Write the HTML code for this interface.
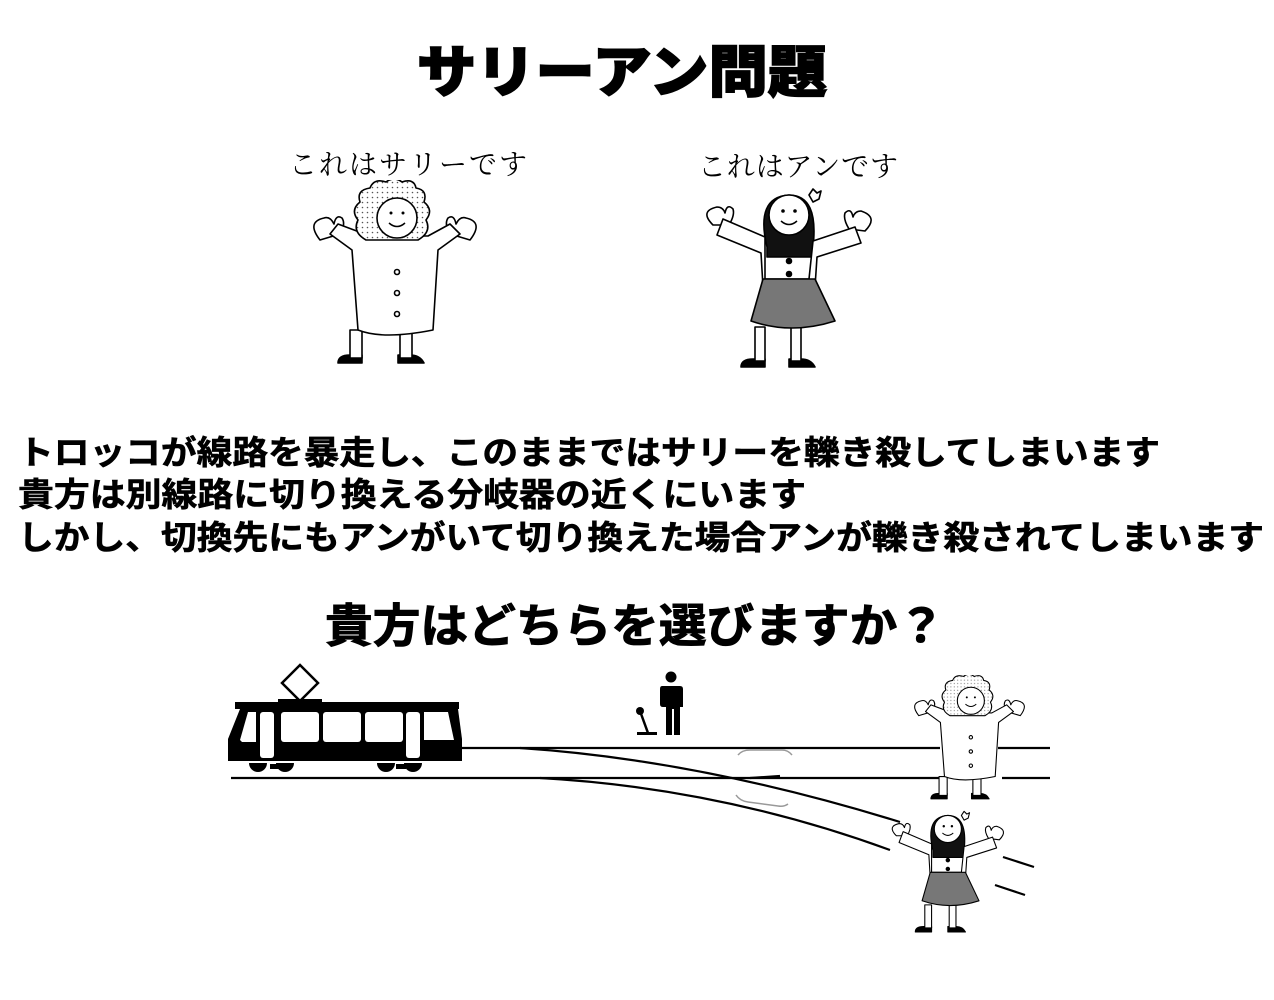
<!DOCTYPE html>
<html><head><meta charset="utf-8"><style>html,body{margin:0;padding:0;background:#fff}svg{display:block}</style></head>
<body>
<svg width="1274" height="1000" viewBox="0 0 1274 1000" xmlns="http://www.w3.org/2000/svg">
<defs>
<pattern id="dots" width="5" height="5" patternUnits="userSpaceOnUse"><rect width="5" height="5" fill="#fff"/><circle cx="2.5" cy="2.5" r="0.8" fill="#555"/></pattern>
<!-- Sally: local box 0..170 x 0..192 -->
<symbol id="sally" viewBox="0 0 170 192">
  <g stroke="#000" stroke-width="1.6" fill="#fff" stroke-linejoin="round">
    <path d="M40 175 q-12 0 -12 8 h24 v-8z" fill="#000"/>
    <path d="M100 175 q10 0 14 8 h-26 v-8z" fill="#000"/>
    <rect x="40" y="150" width="12" height="28"/>
    <rect x="90" y="150" width="12" height="28"/>
    <path d="M10 60 q-14 -18 4 -22 q6 -2 10 6 q2 -10 8 -6 q4 6 -2 16 z"/>
    <path d="M160 60 q14 -18 -4 -22 q-6 -2 -10 6 q-2 -10 -8 -6 q-4 6 2 16 z"/>
    <path d="M20 54 L42 70 L48 150 q25 10 75 0 L128 70 L150 54 L140 44 L118 56 L60 56 L28 44 z"/>
    <path d="M56 60 q-14 -8 -8 -20 q-8 -10 2 -18 q-4 -12 10 -14 q4 -10 16 -6 q8 -6 16 0 q12 -4 14 6 q12 2 8 14 q10 8 2 18 q6 12 -8 20 z" fill="url(#dots)"/>
    <circle cx="87" cy="38" r="20"/>
    <circle cx="87" cy="92" r="2.5"/><circle cx="87" cy="113" r="2.5"/><circle cx="87" cy="134" r="2.5"/>
  </g>
  <circle cx="81" cy="33" r="1.5"/><circle cx="93" cy="33" r="1.5"/>
  <path d="M79 43 q8 7 16 0" stroke="#000" stroke-width="1.5" fill="none"/>
</symbol>
<!-- Ann: local box 0..167 x 0..183 -->
<symbol id="ann" viewBox="0 0 167 183">
  <g stroke="#000" stroke-width="1.6" fill="#fff" stroke-linejoin="round">
    <path d="M62 60 q-12 -50 22 -52 q30 0 24 52 v10 h-46z" fill="#111"/>
    <path d="M48 172 q-12 0 -12 8 h24 v-8z" fill="#000"/>
    <path d="M96 172 q10 0 14 8 h-26 v-8z" fill="#000"/>
    <rect x="50" y="140" width="10" height="34"/><rect x="86" y="140" width="10" height="34"/>
    <path d="M8 38 q-14 -14 4 -18 q6 0 8 6 q2 -10 8 -4 q2 6 -4 16z"/>
    <path d="M160 44 q14 -14 -4 -20 q-6 0 -8 6 q-2 -10 -8 -4 q-2 6 4 16z"/>
    <path d="M18 32 L60 50 L60 92 L104 92 L108 54 L150 40 L156 56 L112 70 L110 100 L58 100 L56 66 L12 48z"/>
    <path d="M58 92 L46 134 q40 14 84 0 L110 92z" fill="#777"/>
    <circle cx="84" cy="28" r="20"/>
    <path d="M104 8 l4 -6 l4 4 l4 -2 l-2 8 l-6 3z"/>
    <circle cx="84" cy="74" r="2.5" fill="#000"/><circle cx="84" cy="87" r="2.5" fill="#000"/>
  </g>
  <circle cx="78" cy="24" r="1.8"/><circle cx="90" cy="24" r="1.8"/>
  <path d="M76 34 q8 7 16 0" stroke="#000" stroke-width="1.5" fill="none"/>
</symbol>
</defs>

<text x="622" y="92" text-anchor="middle" font-family="'Liberation Sans','Noto Sans CJK JP',sans-serif" font-weight="900" font-size="56" textLength="410" lengthAdjust="spacingAndGlyphs" stroke="#000" stroke-width="1.5">サリーアン問題</text>

<text x="408" y="174" text-anchor="middle" font-family="'Liberation Serif','Noto Serif CJK SC',serif" font-size="28" textLength="238">これはサリーです</text>
<text x="798" y="176" text-anchor="middle" font-family="'Liberation Serif','Noto Serif CJK SC',serif" font-size="28" textLength="200">これはアンです</text>

<use href="#sally" x="310" y="180" width="170" height="192"/>
<use href="#ann" x="705" y="187" width="167" height="183"/>

<g font-family="'Liberation Sans','Noto Sans CJK JP',sans-serif" font-weight="bold" font-size="33" stroke="#000" stroke-width="0.6">
<text x="18" y="464" textLength="1142" lengthAdjust="spacingAndGlyphs">トロッコが線路を暴走し、このままではサリーを轢き殺してしまいます</text>
<text x="18" y="506" textLength="788" lengthAdjust="spacingAndGlyphs">貴方は別線路に切り換える分岐器の近くにいます</text>
<text x="18" y="549" textLength="1246" lengthAdjust="spacingAndGlyphs">しかし、切換先にもアンがいて切り換えた場合アンが轢き殺されてしまいます</text>
</g>
<text x="635" y="642" text-anchor="middle" font-family="'Liberation Sans','Noto Sans CJK JP',sans-serif" font-weight="bold" font-size="46" textLength="620" lengthAdjust="spacingAndGlyphs" stroke="#000" stroke-width="1">貴方はどちらを選びますか？</text>

<!-- tram -->
<g>
  <path d="M300 665 l18 18 l-18 18 l-18 -18z" fill="none" stroke="#000" stroke-width="2.5"/>
  <rect x="278" y="699" width="44" height="5" fill="#000"/>
  <rect x="235" y="702" width="224" height="7" fill="#000"/>
  <path d="M240 709 h218 l4 30 v22 h-234 v-22z" fill="#000"/>
  <g fill="#fff">
    <path d="M240 740 l8 -28 h8 v30 h-14z"/>
    <rect x="260" y="712" width="14" height="46" rx="3"/>
    <rect x="281" y="712" width="38" height="30" rx="3"/>
    <rect x="323" y="712" width="38" height="30" rx="3"/>
    <rect x="365" y="712" width="38" height="30" rx="3"/>
    <rect x="406" y="712" width="14" height="46" rx="3"/>
    <path d="M424 712 h24 l6 28 h-30z"/>
  </g>
  <g fill="#000">
    <path d="M249 763 h18 a9 9 0 0 1 -18 0z"/><path d="M276 763 h18 a9 9 0 0 1 -18 0z"/>
    <rect x="270" y="764" width="10" height="5"/>
    <path d="M377 763 h18 a9 9 0 0 1 -18 0z"/><path d="M404 763 h18 a9 9 0 0 1 -18 0z"/>
    <rect x="396" y="764" width="10" height="5"/>
  </g>
</g>

<!-- rails -->
<g stroke="#000" stroke-width="2.2" fill="none">
  <line x1="462" y1="748" x2="940" y2="748"/>
  <line x1="998" y1="748" x2="1050" y2="748"/>
  <line x1="231" y1="778" x2="940" y2="778"/>
  <line x1="1002" y1="778" x2="1050" y2="778"/>
  <path d="M520 748 Q700 760 900 822"/>
  <path d="M540 778 Q720 788 890 850"/>
  <line x1="1003" y1="857" x2="1034" y2="867"/>
  <line x1="995" y1="885" x2="1025" y2="895"/>
  <path d="M750 778 l30 -2"/>
</g>
<g stroke="#999" stroke-width="1.5" fill="none">
  <path d="M738 755 q4 -5 12 -5 h32 q6 0 10 5"/>
  <path d="M736 795 q4 6 12 7 l30 4 q6 1 10 -2"/>
</g>

<!-- man and lever -->
<g fill="#000">
  <circle cx="671" cy="677" r="5.5"/>
  <path d="M662 686 h18 q3 0 3 3 v18 h-3 v28 h-6 v-26 h-2 v26 h-6 v-28 h-3 q-3 0 -3 -3 v-15 q0 -3 2 -3z"/>
  <circle cx="640" cy="711" r="4"/>
  <path d="M640 711 l8 22" stroke="#000" stroke-width="2.5"/>
  <rect x="637" y="732" width="20" height="3"/>
</g>

<use href="#sally" x="912" y="675" width="115" height="130"/>
<use href="#ann" x="890" y="810" width="115" height="124"/>
</svg>
</body></html>
